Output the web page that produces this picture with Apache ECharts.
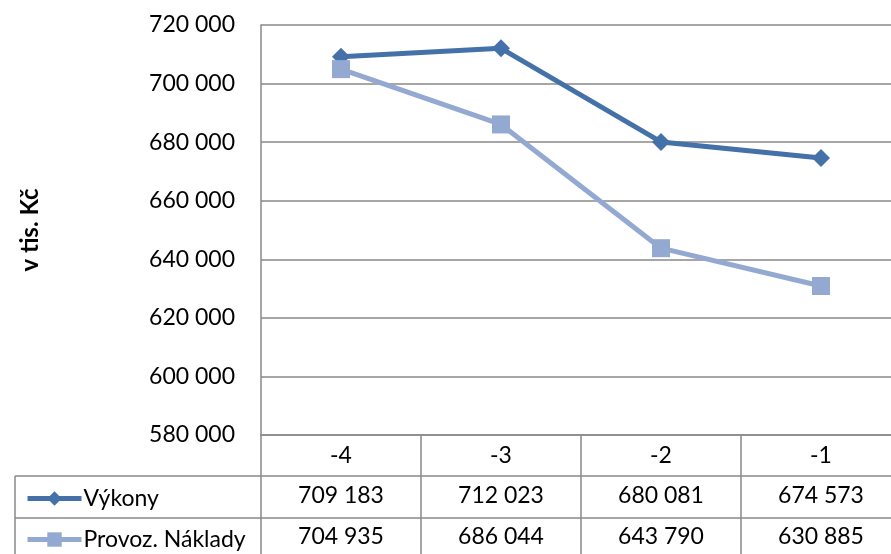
<!DOCTYPE html>
<html>
<head>
<meta charset="utf-8">
<script src="https://cdn.jsdelivr.net/npm/echarts@6/dist/echarts.min.js"></script>
<style>
  html, body { margin: 0; padding: 0; background: #fff; overflow: hidden; }
  #chart { width: 901px; height: 554px; }
</style>
</head>
<body>
<div id="chart"></div>
<script>
// Years relative to the current one
const categories = ['-4', '-3', '-2', '-1'];
// Values in thousands of CZK
const vykony = [709183, 712023, 680081, 674573];
const naklady = [704935, 686044, 643790, 630885];
const seriesNames = ['Výkony', 'Provoz. Náklady'];
const yTicks = { min: 580000, max: 720000, step: 20000 };

const FONT = 'Lato, "Open Sans", sans-serif';
const FS = 23;
// the plot runs on past the right edge of the visible page
const GRID = { left: 261, top: 25, right: 0, bottom: 119 };
const ROW = 41;
const lineGray = '#898989';
const colA = '#4571A9';
const colB = '#94A9D2';

function fmt(v) {
  return String(v).replace(/\B(?=(\d{3})+(?!\d))/g, ' ');
}

// Data table rows are drawn as extra category axes below the plot
function tableAxis(data, offset, tickLen, margin) {
  return {
    type: 'category',
    data: data,
    position: 'bottom',
    offset: offset,
    boundaryGap: true,
    axisLine: { show: true, lineStyle: { color: lineGray, width: 1.5 } },
    axisTick: { show: true, interval: 0, inside: false, length: tickLen,
                lineStyle: { color: lineGray, width: 1.5 } },
    axisLabel: { interval: 0, margin: margin, color: '#000', fontSize: FS, fontFamily: FONT },
    splitLine: { show: false }
  };
}

// One legend per table row, placed in the row's first cell
function rowLegend(name, top) {
  return {
    orient: 'horizontal',
    left: 20,
    top: top,
    itemWidth: 54,
    itemHeight: 18,
    lineStyle: { width: 5 },
    textStyle: { color: '#000', fontSize: FS, fontFamily: FONT, padding: [0, 0, 0, -3] },
    data: [name]
  };
}

const chart = echarts.init(document.getElementById('chart'), null, { renderer: 'canvas' });

const plotBottom = 554 - GRID.bottom;
const tableTop1 = plotBottom + ROW;
const tableTop2 = tableTop1 + ROW + 1;

chart.setOption({
  backgroundColor: '#fff',
  animation: false,
  grid: Object.assign({ containLabel: false }, GRID),
  legend: [
    rowLegend(seriesNames[0], tableTop1 + 6),
    rowLegend(seriesNames[1], tableTop2 + 5)
  ],
  xAxis: [
    tableAxis(categories, 0, ROW, 9),
    tableAxis(vykony.map(fmt), ROW, ROW + 1, 8),
    tableAxis(naklady.map(fmt), 2 * ROW + 1, ROW, 7)
  ],
  yAxis: {
    type: 'value',
    min: yTicks.min,
    max: yTicks.max,
    interval: yTicks.step,
    name: 'v tis. Kč',
    nameLocation: 'middle',
    nameRotate: 90,
    nameGap: 219,
    nameTextStyle: { color: '#000', fontSize: 24, fontWeight: 'bold', fontFamily: FONT },
    axisLine: { show: true, lineStyle: { color: lineGray, width: 1.5 } },
    axisTick: { show: false },
    axisLabel: { margin: 26, color: '#000', fontSize: FS, fontFamily: FONT, formatter: fmt },
    splitLine: { show: true, lineStyle: { color: lineGray, width: 1.5 } }
  },
  graphic: [
    { type: 'line', silent: true, z: 10,
      shape: { x1: 15, y1: tableTop1, x2: GRID.left, y2: tableTop1 },
      style: { stroke: lineGray, lineWidth: 1.5 } },
    { type: 'line', silent: true, z: 10,
      shape: { x1: 15, y1: tableTop2, x2: GRID.left, y2: tableTop2 },
      style: { stroke: lineGray, lineWidth: 1.5 } },
    { type: 'line', silent: true, z: 10,
      shape: { x1: 15, y1: tableTop1, x2: 15, y2: 560 },
      style: { stroke: lineGray, lineWidth: 1.5 } }
  ],
  series: [
    {
      name: seriesNames[0],
      type: 'line',
      xAxisIndex: 0,
      data: vykony,
      symbol: 'diamond',
      symbolSize: 18,
      lineStyle: { color: colA, width: 5 },
      itemStyle: { color: colA },
      z: 2
    },
    {
      name: seriesNames[1],
      type: 'line',
      xAxisIndex: 0,
      data: naklady,
      symbol: 'rect',
      symbolSize: 18,
      lineStyle: { color: colB, width: 5 },
      itemStyle: { color: colB },
      z: 3
    }
  ]
});
</script>
</body>
</html>
